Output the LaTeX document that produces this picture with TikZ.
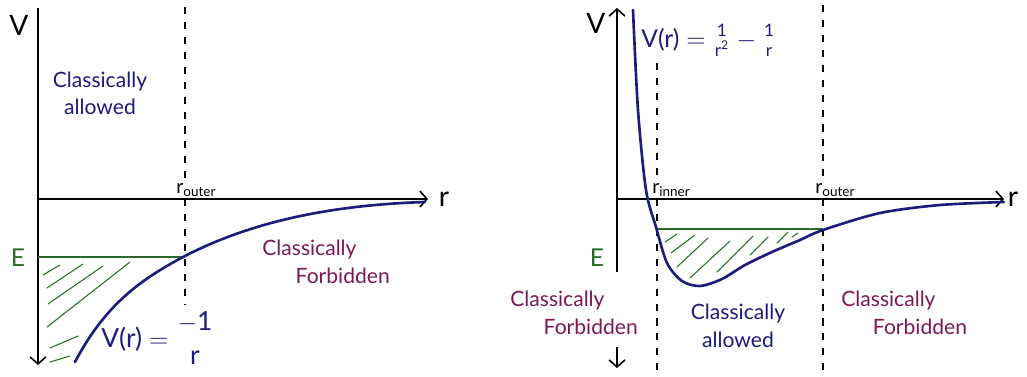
\documentclass[tikz,border=0pt]{standalone}
\usepackage{amsmath}
\usepackage{fontspec}
\setmainfont{Lato}
\usepackage{tikz}
\usetikzlibrary{
    arrows.meta,
    positioning
}
\definecolor{curveblue}{HTML}{1C1C7C}
\definecolor{energygreen}{HTML}{2A6A2A}
\definecolor{forbidpurple}{HTML}{7A1A52}
\newcommand{\nobar}[2]{\genfrac{}{}{0pt}{}{\text{#1}}{\text{#2}}}
\newcommand{\bignobar}[2]{\genfrac{}{}{0pt}{0}{\text{#1}}{\text{#2}}}

\begin{document}
\begin{tikzpicture}[x=0.02cm, y=-0.02cm,
    axis/.style={line width=0.9pt, -{Straight Barb[length=4pt, width=9pt]}},
    bound/.style={line width=0.6pt, dash pattern=on 4pt off 4.5pt},
    potential/.style={curveblue, line width=1.5pt, line cap=round},
    level/.style={energygreen, line width=1.1pt},
    hatchline/.style={energygreen, line width=0.6pt, line cap=round},
    handtext/.style={font=\fontsize{12}{15.5}\selectfont, inner sep=0pt},
    axlabel/.style={font=\fontsize{16}{16}\selectfont, inner sep=0pt}
]
    \useasboundingbox (0,0) rectangle (1027,376);

    % Left panel: axes
    \coordinate (lvtop) at (38,8);
    \coordinate (lvbot) at (38,365);
    \coordinate (lrend) at (428,199);
    \coordinate (lorig) at (38,199);
    \draw[axis, {Straight Barb[length=4pt, width=9pt]}-] (lvbot) -- (lvtop);
    \draw[axis] (lorig) -- (lrend);
    \node[axlabel] (lV) at (19,25) {V};
    \node[axlabel, right=6pt of lrend] (lr) {r};

    % Left panel: turning point
    \draw[bound] (185,7) -- (185,180);
    \draw[bound] (185,199) -- (185,305);
    \node[font=\fontsize{11}{11}\selectfont, inner sep=0pt, anchor=west] (louter) at (176,190) {r$_{\text{outer}}$};

    % Left panel: energy level and hatching
    \coordinate (lE1) at (38,257);
    \coordinate (lE2) at (183,257);
    \draw[level] (lE1) -- (lE2);
    \node[font=\fontsize{14}{14}\selectfont, inner sep=0pt, text=energygreen] (lE) at (18,258) {E};
    \foreach \a/\b/\c/\d in {43/275/60/265, 47/288/83/264, 48/304/103/266, 47/327/130/262,
                             50/348/78/336, 50/362/70/356}
        \draw[hatchline] (\a,\b) -- (\c,\d);

    % Left panel: V(r) = -1/r
    \draw[potential] (75,362) .. controls (105,305) and (140,280) .. (183,257)
        .. controls (250,222) and (330,205) .. (425,202);
    \node[font=\fontsize{15}{16}\selectfont, inner sep=0pt, anchor=west, text=curveblue] (lform)
        at (101,338) {$\text{V(r)} = \bignobar{$-$1}{r}$};

    % Left panel: regions
    \node[handtext, align=center, text=curveblue] (lallowed) at (100,93) {Classically\\allowed};
    \node[handtext, align=left, text=forbidpurple, anchor=north west] (lforbid) at (262,240)
        {Classically\\\hspace*{19pt}Forbidden};

    % Right panel: axes
    \coordinate (rvtop) at (617,8);
    \coordinate (rvcut) at (617,272);
    \coordinate (rvgo) at (617,347);
    \coordinate (rvbot) at (617,368);
    \coordinate (rorig) at (617,199);
    \coordinate (rrend) at (1004,199);
    \draw[axis] (rvcut) -- (rvtop);
    \draw[axis] (rvgo) -- (rvbot);
    \draw[axis] (rorig) -- (rrend);
    \node[axlabel] (rV) at (596,23) {V};
    \node[axlabel, right=2pt of rrend] (rr) {r};

    % Right panel: turning points
    \draw[bound] (657,63) -- (657,180);
    \draw[bound] (657,199) -- (657,376);
    \draw[bound] (823,5) -- (823,180);
    \draw[bound] (823,199) -- (823,376);
    \node[font=\fontsize{11}{11}\selectfont, inner sep=0pt, anchor=west] (rinner) at (652,190) {r$_{\text{inner}}$};
    \node[font=\fontsize{11}{11}\selectfont, inner sep=0pt, anchor=west] (router) at (815,190) {r$_{\text{outer}}$};

    % Right panel: energy level and hatching
    \coordinate (rE1) at (657,229);
    \coordinate (rE2) at (823,229);
    \draw[level] (rE1) -- (rE2);
    \node[font=\fontsize{14}{14}\selectfont, inner sep=0pt, text=energygreen] (rE) at (597,258) {E};
    \foreach \a/\b/\c/\d in {665/242/677/234, 671/253/695/235, 677/267/708/238, 690/278/730/241,
                             717/272/753/236, 750/255/768/237, 777/243/788/232, 792/237/798/233}
        \draw[hatchline] (\a,\b) -- (\c,\d);

    % Right panel: V(r) = 1/r^2 - 1/r
    \draw[potential] plot[smooth] coordinates {(633,10) (638,110) (646,190) (656,227)
        (667,263) (682,281) (700,286) (722,279) (745,265) (772,252) (800,240) (823,230)
        (880,213) (940,205) (1004,202)};
    \node[font=\fontsize{14}{15}\selectfont, inner sep=0pt, anchor=west, text=curveblue] (rform)
        at (641,40) {$\text{V(r)} = \nobar{1}{r$^{\text{2}}$} - \nobar{1}{r}$};

    % Right panel: regions
    \node[handtext, align=left, text=forbidpurple, anchor=north west] (rforbidin) at (510,291)
        {Classically\\\hspace*{19pt}Forbidden};
    \node[handtext, align=center, text=curveblue, anchor=north] (rallowed) at (738,304)
        {Classically\\allowed};
    \node[handtext, align=left, text=forbidpurple, anchor=north west] (rforbidout) at (841,291)
        {Classically\\\hspace*{18pt}Forbidden};

\end{tikzpicture}
\end{document}
